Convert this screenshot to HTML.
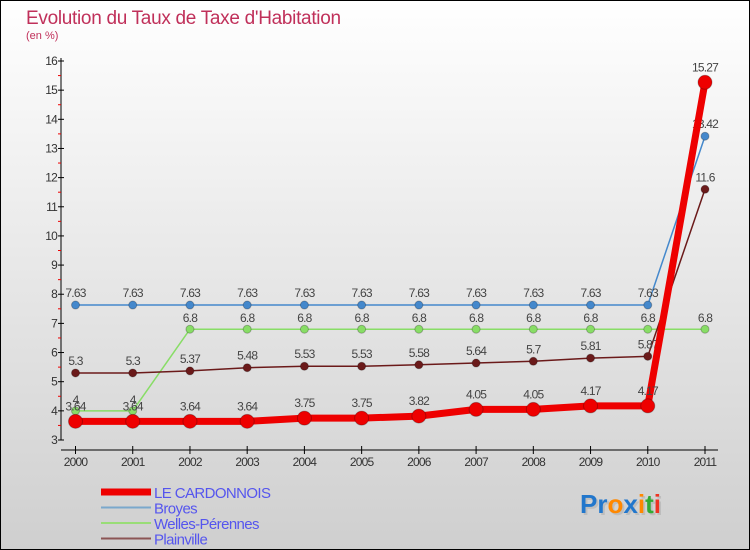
<!DOCTYPE html>
<html><head><meta charset="utf-8"><style>
body{margin:0}
svg{display:block;font-family:"Liberation Sans",sans-serif}
</style></head><body>
<svg width="750" height="550" viewBox="0 0 750 550">
<defs><linearGradient id="bg" x1="0" y1="0" x2="0" y2="1"><stop offset="0" stop-color="#ffffff"/><stop offset="1" stop-color="#cfcfcf"/></linearGradient></defs>
<rect x="0.5" y="0.5" width="749" height="549" fill="url(#bg)" stroke="#000"/>
<text x="26" y="24" font-size="19" fill="#c0305a" letter-spacing="-0.3">Evolution du Taux de Taxe d'Habitation</text>
<text x="26" y="39" font-size="11" fill="#c0305a">(en %)</text>
<g id="axes"></g>
<g id="series"></g>
<g id="legend" font-size="15" fill="#5555ee" letter-spacing="-0.6"></g>
<g font-size="26" font-weight="bold">
<text x="582" y="515" fill="#aaa" opacity="0.5">Proxiti</text>
<text x="580" y="513"><tspan fill="#2277cc">Pr</tspan><tspan fill="#ff8800">o</tspan><tspan fill="#2277cc">x</tspan><tspan fill="#ff8800">i</tspan><tspan fill="#33aa33">t</tspan><tspan fill="#ee3322">i</tspan></text>
</g>
</svg>
<script>
const years=[2000,2001,2002,2003,2004,2005,2006,2007,2008,2009,2010,2011];
const cardonnois=[3.64,3.64,3.64,3.64,3.75,3.75,3.82,4.05,4.05,4.17,4.17,15.27];
const broyes=[7.63,7.63,7.63,7.63,7.63,7.63,7.63,7.63,7.63,7.63,7.63,13.42];
const welles=[4,4,6.8,6.8,6.8,6.8,6.8,6.8,6.8,6.8,6.8,6.8];
const plainville=[5.3,5.3,5.37,5.48,5.53,5.53,5.58,5.64,5.7,5.81,5.87,11.6];
const yTicks=[3,4,5,6,7,8,9,10,11,12,13,14,15,16];
const NS="http://www.w3.org/2000/svg";
const X=i=>75.5+i*(705-75.5)/11;
const Y=v=>440-(v-3)*(379/13);
function el(t,a,p){const e=document.createElementNS(NS,t);for(const k in a)e.setAttribute(k,a[k]);p.appendChild(e);return e;}
const ax=document.getElementById('axes');
let l=el('line',{x1:61,y1:58,x2:61,y2:440,stroke:'#000'},ax);


l=el('line',{x1:61,y1:450,x2:718,y2:450,stroke:'#000'},ax);


yTicks.forEach(v=>{
  el('line',{x1:58,y1:Y(v),x2:64,y2:Y(v),stroke:'#000'},ax);
  if(v<16)el('line',{x1:58,y1:Y(v+0.5),x2:61,y2:Y(v+0.5),stroke:'#e00'},ax);
  const t=el('text',{x:57,y:Y(v)+4,'font-size':12,'text-anchor':'end',fill:'#333','letter-spacing':'-0.8'},ax);
  t.textContent=v;
  
  
});
years.forEach((y,i)=>{
  el('line',{x1:X(i),y1:446,x2:X(i),y2:454,stroke:'#000'},ax);
  const t=el('text',{x:X(i),y:466,'font-size':12,'text-anchor':'middle',fill:'#333','letter-spacing':'-0.8'},ax);
  t.textContent=y;
  
  
});
const sg=document.getElementById('series');
function series(name,data,color,w,r,labelDy){
  const g=el('g',{},sg);
  
  
  const ln=el('polyline',{points:data.map((v,i)=>X(i)+','+Y(v)).join(' '),fill:'none',stroke:color,'stroke-width':w,'stroke-linejoin':'round'},g);
  
  
  data.forEach((v,i)=>{
    const c=el('circle',{cx:X(i),cy:Y(v),r:r,fill:color,stroke:'rgba(0,0,0,0.25)'},g);
    
    
    const t=el('text',{x:X(i),y:Y(v)+labelDy,'font-size':12,'text-anchor':'middle',fill:'#444','letter-spacing':'-0.8'},g);
    t.textContent=v;
    
    
  });
}
series('welles',welles,'#88dd66',1.5,4,-7);
series('plainville',plainville,'#6b1a1a',1.5,4,-8);
series('broyes',broyes,'#4488cc',1.5,4,-8);
series('cardonnois',cardonnois,'#ee0000',7,7,-11);
const lg=document.getElementById('legend');
const items=[['LE CARDONNOIS','#ee0000',7],['Broyes','#7aa8cc',2],['Welles-Pérennes','#99dd77',2],['Plainville','#8b5555',2]];
items.forEach((it,i)=>{
  const y=492+i*15.5;
  const ln=el('line',{x1:101,y1:y,x2:151,y2:y,stroke:it[1],'stroke-width':it[2]},lg);
  
  
  const t=el('text',{x:154,y:y+6},lg);
  t.textContent=it[0];
  
  
});
</script>
</body></html>
